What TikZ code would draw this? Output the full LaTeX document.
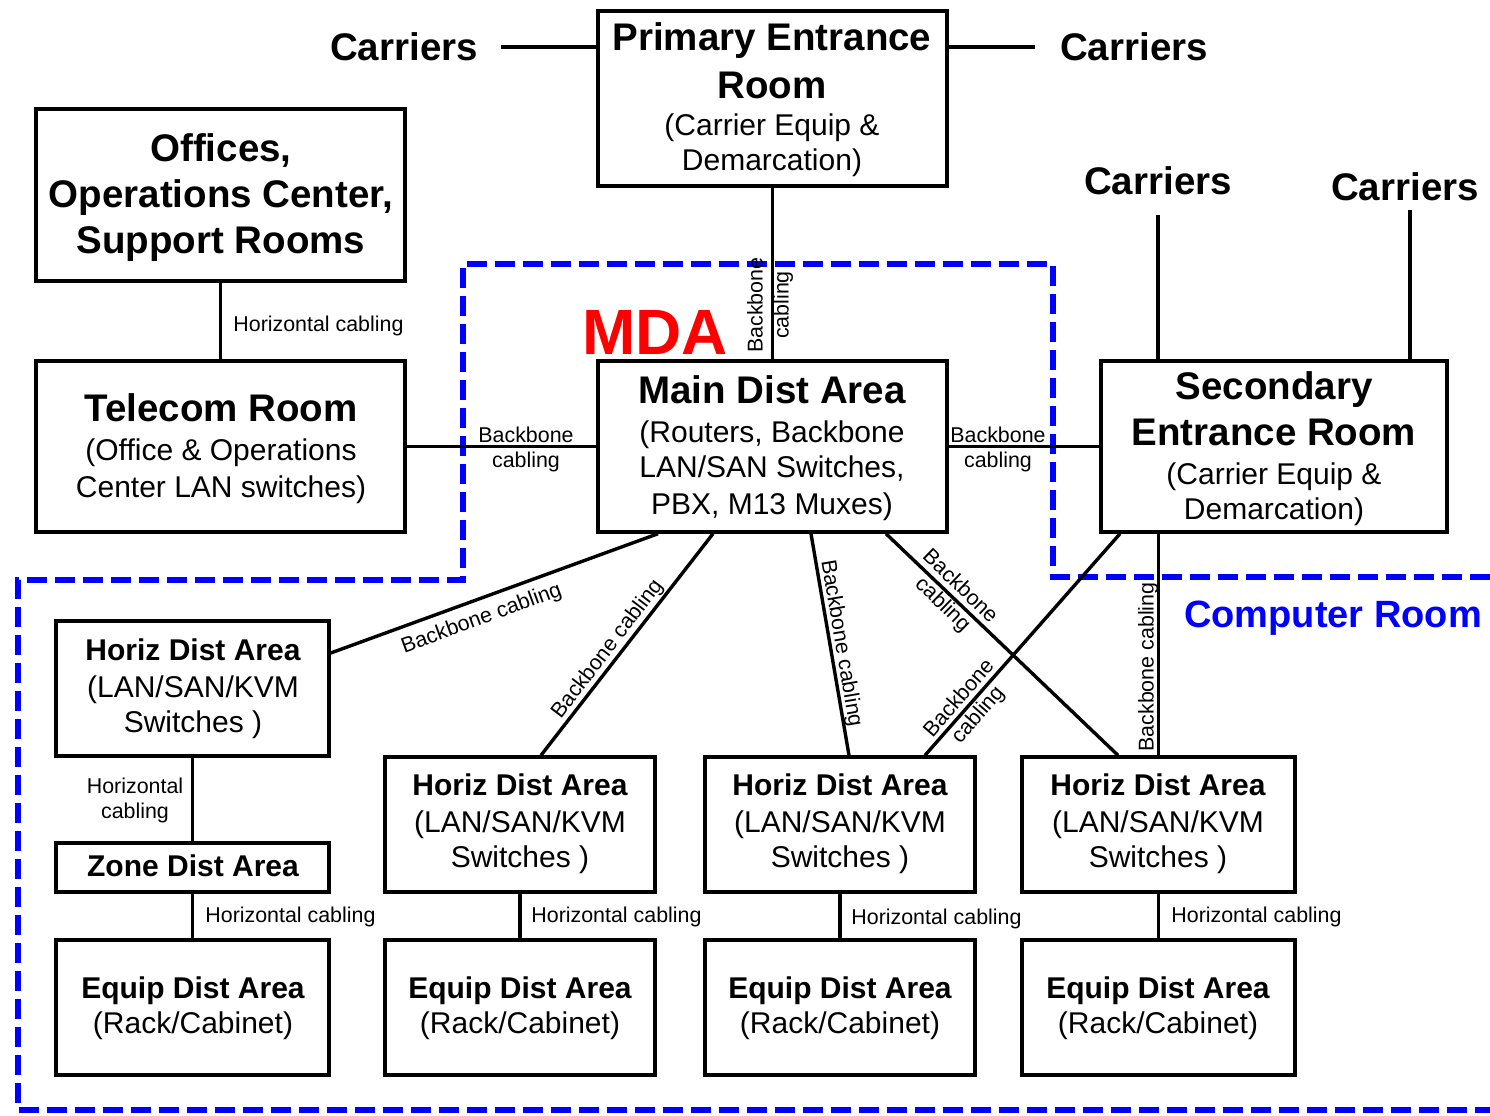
\documentclass[tikz,border=0pt]{standalone}
\usepackage{fontspec}
\setmainfont{Liberation Sans}
\usetikzlibrary{fit}
\definecolor{mblue}{RGB}{0,0,255}
\definecolor{mred}{RGB}{255,0,0}
\begin{document}
\begin{tikzpicture}[x=0.5pt,y=-0.5pt,
  box/.style={draw, line width=1.7pt, inner sep=0pt},
  ttl/.style={font=\bfseries\fontsize{19.25}{23}\selectfont, inner sep=0pt, text height=13.8pt, text depth=0pt},
  sub/.style={font=\fontsize{15}{18}\selectfont, inner sep=0pt, text height=10.7pt, text depth=0pt},
  sttl/.style={font=\bfseries\fontsize{15}{18}\selectfont, inner sep=0pt, text height=10.7pt, text depth=0pt},
  lab/.style={font=\fontsize{10.7}{12.5}\selectfont, inner sep=0pt, text height=7.7pt, text depth=0pt},
  labtwo/.style={font=\fontsize{10.7}{12.5}\selectfont, inner sep=0pt, align=center},
  wire/.style={line width=1.7pt},
  bluedash/.style={mblue, line width=3pt, dash pattern=on 10pt off 4pt}
]
\useasboundingbox (0,0) rectangle (1490,1115);

% ---------- blue dashed regions ----------
\draw[bluedash] (1490,577) -- (1053,577) -- (1053,264) -- (463,264) -- (463,580) -- (18,580) -- (18,1110) -- (1490,1110);

% ---------- boxes ----------
\node[box, fit={(598,11)(947,186)}] (per) {};
\node[box, fit={(36,109)(405,281)}] (off) {};
\node[box, fit={(36,361)(405,532)}] (tel) {};
\node[box, fit={(598,361)(947,532)}] (mda) {};
\node[box, fit={(1101,361)(1447,532)}] (ser) {};
\node[box, fit={(56,621)(329,756)}] (h1) {};
\node[box, fit={(56,843)(329,892)}] (z1) {};
\node[box, fit={(56,940)(329,1075)}] (e1) {};
\node[box, fit={(385,757)(655,892)}] (h2) {};
\node[box, fit={(385,940)(655,1075)}] (e2) {};
\node[box, fit={(705,757)(975,892)}] (h3) {};
\node[box, fit={(705,940)(975,1075)}] (e3) {};
\node[box, fit={(1022,757)(1295,892)}] (h4) {};
\node[box, fit={(1022,940)(1295,1075)}] (e4) {};

% ---------- box texts ----------
\node[ttl] (per1) at (772,37) {Primary Entrance};
\node[ttl] (per2) at (772,85) {Room};
\node[sub] (per3) at (772,125) {(Carrier Equip \&};
\node[sub] (per4) at (772,160) {Demarcation)};

\node[ttl] (off1) at (221,148) {Offices,};
\node[ttl] (off2) at (221,194) {Operations Center,};
\node[ttl] (off3) at (221,240) {Support Rooms};

\node[ttl] (tel1) at (221,408) {Telecom Room};
\node[sub] (tel2) at (221,450) {(Office \& Operations};
\node[sub] (tel3) at (221,487) {Center LAN switches)};

\node[ttl] (mda1) at (772,390) {Main Dist Area};
\node[sub] (mda2) at (772,432) {(Routers, Backbone};
\node[sub] (mda3) at (772,467) {LAN/SAN Switches,};
\node[sub] (mda4) at (772,504) {PBX, M13 Muxes)};

\node[ttl] (ser1) at (1274,386) {Secondary};
\node[ttl] (ser2) at (1274,432) {Entrance Room};
\node[sub] (ser3) at (1274,474) {(Carrier Equip \&};
\node[sub] (ser4) at (1274,509) {Demarcation)};

\node[sttl] (h1a) at (193,650) {Horiz Dist Area};
\node[sub] (h1b) at (193,687) {(LAN/SAN/KVM};
\node[sub] (h1c) at (193,722) {Switches )};
\node[sttl] (z1a) at (193,866) {Zone Dist Area};
\node[sttl] (e1a) at (193,988) {Equip Dist Area};
\node[sub] (e1b) at (193,1023) {(Rack/Cabinet)};

\node[sttl] (h2a) at (520,785) {Horiz Dist Area};
\node[sub] (h2b) at (520,822) {(LAN/SAN/KVM};
\node[sub] (h2c) at (520,857) {Switches )};
\node[sttl] (e2a) at (520,988) {Equip Dist Area};
\node[sub] (e2b) at (520,1023) {(Rack/Cabinet)};

\node[sttl] (h3a) at (840,785) {Horiz Dist Area};
\node[sub] (h3b) at (840,822) {(LAN/SAN/KVM};
\node[sub] (h3c) at (840,857) {Switches )};
\node[sttl] (e3a) at (840,988) {Equip Dist Area};
\node[sub] (e3b) at (840,1023) {(Rack/Cabinet)};

\node[sttl] (h4a) at (1158,785) {Horiz Dist Area};
\node[sub] (h4b) at (1158,822) {(LAN/SAN/KVM};
\node[sub] (h4c) at (1158,857) {Switches )};
\node[sttl] (e4a) at (1158,988) {Equip Dist Area};
\node[sub] (e4b) at (1158,1023) {(Rack/Cabinet)};

% ---------- free labels ----------
\node[ttl] (cl) at (404,47) {Carriers};
\node[ttl] (cr) at (1134,47) {Carriers};
\node[ttl] (cs1) at (1158,181) {Carriers};
\node[ttl] (cs2) at (1405,187) {Carriers};
\node[font=\bfseries\fontsize{32}{36}\selectfont, text=mred, inner sep=0pt, text height=22.9pt, text depth=0pt] (mdalbl) at (655,332) {MDA};
\node[font=\bfseries\fontsize{19}{23}\selectfont, text=mblue, inner sep=0pt, text height=13.6pt, text depth=0pt] (crl) at (1333,614) {Computer Room};

% ---------- connectors ----------
\draw[wire] ([xshift=11.5pt]cl.east) -- (cl -| per.west);
\draw[wire] (per.east |- cr) -- ([xshift=-12.5pt]cr.west);
\draw[wire] ([yshift=-10pt]cs1.south) -- (cs1 |- ser.north);
\draw[wire] ([xshift=2.5pt,yshift=-4.6pt]cs2.south) coordinate (c2a) -- (c2a |- ser.north);
\draw[wire] (off) -- (tel);
\draw[wire] (per) -- (mda);
\draw[wire] (tel) -- (mda);
\draw[wire] (mda) -- (ser);
\draw[wire] (h1) -- (z1);
\draw[wire] (z1) -- (e1);
\draw[wire] (h2) -- (e2);
\draw[wire] (h3) -- (e3);
\draw[wire] (h4) -- (e4);
\draw[wire] ([xshift=-57.25pt]mda.south) -- ([yshift=17.75pt]h1.east);
\draw[wire] ([xshift=-29.75pt]mda.south) -- ([xshift=10.5pt]h2.north);
\draw[wire] ([xshift=19.25pt]mda.south) -- ([xshift=4.5pt]h3.north);
\draw[wire] ([xshift=56.75pt]mda.south) -- ([xshift=-20.25pt]h4.north);
\draw[wire] ([xshift=-77pt]ser.south) -- ([xshift=42.5pt]h3.north);
\draw[wire] (h4.north |- ser.south) -- (h4.north);

% ---------- connector labels ----------
\node[lab, rotate=90] (blt1) at (755,305) {Backbone};
\node[lab, rotate=90] (blt2) at (781,305) {cabling};
\node[labtwo] (blh1) at (526,449) {Backbone\\cabling};
\node[labtwo] (blh2) at (998,449) {Backbone\\cabling};
\node[lab, anchor=west] (hc0) at (233,324) {Horizontal cabling};
\node[labtwo] (hc1) at (135,800) {Horizontal\\cabling};
\node[lab, anchor=west] (hc2) at (205,915) {Horizontal cabling};
\node[lab, anchor=west] (hc3) at (531,915) {Horizontal cabling};
\node[lab, anchor=west] (hc4) at (851,917) {Horizontal cabling};
\node[lab, anchor=west] (hc5) at (1171,915) {Horizontal cabling};
\node[lab, rotate=20.2] (bl1) at (481,617) {Backbone cabling};
\node[lab, rotate=52.6] (bl2) at (606,648) {Backbone cabling};
\node[lab, rotate=-80.4] (bl3) at (843,643) {Backbone cabling};
\node[labtwo, rotate=-44.1] (bl4) at (951,596) {Backbone\\cabling};
\node[labtwo, rotate=49.1] (bl5) at (969,707) {Backbone\\cabling};
\node[lab, rotate=90] (bl6) at (1146,667) {Backbone cabling};
\end{tikzpicture}
\end{document}
